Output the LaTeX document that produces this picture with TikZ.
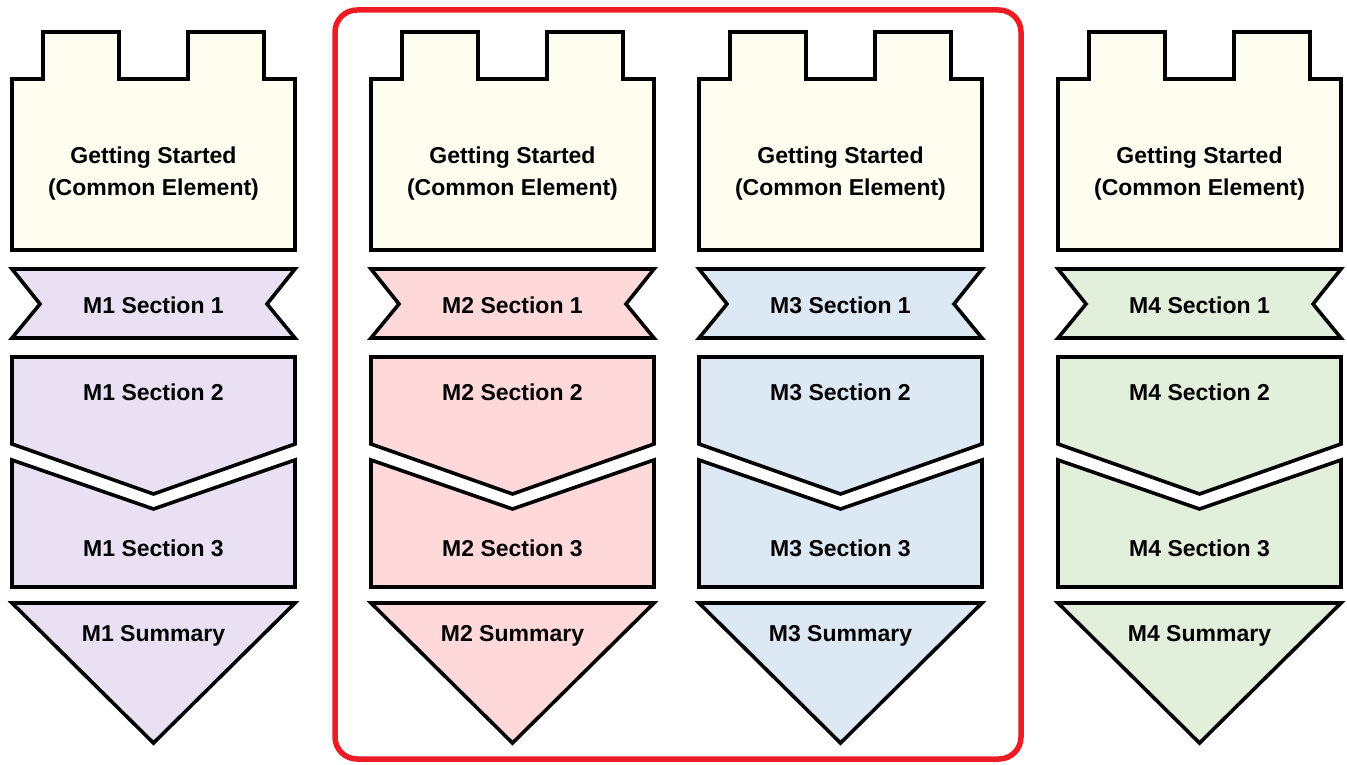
\documentclass[tikz,border=0pt]{standalone}
\usepackage{fontspec}
\setmainfont{Liberation Sans}
\definecolor{cream}{RGB}{255,253,240}
\definecolor{colM1}{RGB}{234,224,244}
\definecolor{colM2}{RGB}{255,217,217}
\definecolor{colM3}{RGB}{221,232,245}
\definecolor{colM4}{RGB}{226,239,218}
\definecolor{framered}{RGB}{237,28,36}
\tikzset{
  piece/.style={draw=black, line width=3.6pt, line join=miter},
  lbl/.style={font=\bfseries\fontsize{23}{32}\selectfont, text=black, align=center, inner sep=0pt},
  frame/.style={draw=framered, line width=5.5pt, rounded corners=22pt}
}
\begin{document}
\begin{tikzpicture}[x=1pt,y=-1pt]
\useasboundingbox (0,0) rectangle (1347,765);
\foreach \x/\m in {12/M1, 371/M2, 699/M3, 1058/M4}{
  \pgfmathsetmacro{\cx}{\x+141.5}
  \pgfmathsetmacro{\rx}{\x+283}
  % Getting Started block
  \draw[piece, fill=cream] (\x,79) -- (\x+31,79) -- (\x+31,32) -- (\x+107,32) -- (\x+107,79)
     -- (\x+176,79) -- (\x+176,32) -- (\x+252,32) -- (\x+252,79) -- (\rx,79) -- (\rx,250) -- (\x,250) -- cycle;
  \node[lbl] (gs\m) at (\cx,174) {Getting Started\\(Common Element)};
  % Section 1 ribbon
  \draw[piece, fill=col\m] (\x,269) -- (\rx,269) -- (\rx-28,304) -- (\rx,338) -- (\x,338) -- (\x+28,304) -- cycle;
  \node[lbl] (s1\m) at (\cx,305) {\m\ Section 1};
  % Section 2
  \draw[piece, fill=col\m] (\x,357) -- (\rx,357) -- (\rx,444) -- (\cx,494) -- (\x,444) -- cycle;
  \node[lbl] (s2\m) at (\cx,392) {\m\ Section 2};
  % Section 3
  \draw[piece, fill=col\m] (\x,460) -- (\cx,509) -- (\rx,460) -- (\rx,587) -- (\x,587) -- cycle;
  \node[lbl] (s3\m) at (\cx,548) {\m\ Section 3};
  % Summary
  \draw[piece, fill=col\m] (\x,603) -- (\rx,603) -- (\cx,743) -- cycle;
  \node[lbl] (sum\m) at (\cx,636) {\m\ Summary};
}
\draw[frame] (335,10) rectangle (1021,759);
\end{tikzpicture}
\end{document}
